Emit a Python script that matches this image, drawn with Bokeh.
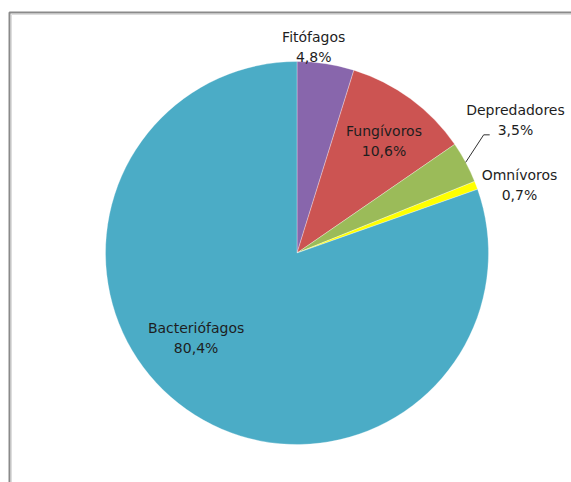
import math
from bokeh.plotting import figure
from bokeh.models import Range1d, ColumnDataSource
from bokeh.embed import file_html
from bokeh.resources import INLINE

# ---- data ----
categories = ["Fitófagos", "Fungívoros", "Depredadores", "Omnívoros", "Bacteriófagos"]
percent = [4.8, 10.6, 3.5, 0.7, 80.4]
pct_labels = ["4,8%", "10,6%", "3,5%", "0,7%", "80,4%"]
colors = ["#8866AC", "#CC5452", "#9BBB59", "#FFFF00", "#4BACC6"]

# ---- layout ----
W, H = 571, 482
cx, cy, R = 296.5, H - 252.5, 191.5
# label placement: (radius factor, angle nudge in degrees)
label_layout = [(1.08, -4.0), (0.74, 1.5), (1.336, -3.1), (1.215, 3.7), (0.69, 14.5)]

p = figure(width=W, height=H, output_backend="svg", toolbar_location=None,
           x_range=Range1d(0, W), y_range=Range1d(0, H),
           min_border=0, outline_line_color=None)
p.axis.visible = False
p.grid.visible = False
p.background_fill_color = "white"
p.border_fill_color = "white"

total = sum(percent)
starts, ends, mids = [], [], []
acc = 0.0
for v in percent:
    a0 = acc / total * 2 * math.pi
    acc += v
    a1 = acc / total * 2 * math.pi
    mids.append((a0 + a1) / 2)
    # clockwise from 12 o'clock -> bokeh anticlockwise from 3 o'clock
    starts.append(math.pi / 2 - a1)
    ends.append(math.pi / 2 - a0)

src = ColumnDataSource(dict(start=starts, end=ends, color=colors))
p.wedge(x=cx, y=cy, radius=R, start_angle="start", end_angle="end",
        fill_color="color", line_color="white", line_width=0.6, line_alpha=0.5,
        source=src)

# labels
for name, pl, m, (rf, nudge) in zip(categories, pct_labels, mids, label_layout):
    a = m + math.radians(nudge)
    lx = cx + R * rf * math.sin(a)
    ly = cy + R * rf * math.cos(a)
    p.text(x=[lx], y=[ly], text=[name + "\n" + pl], text_align="center",
           text_baseline="middle", text_font_size="14px",
           text_font={"value": "DejaVu Sans"}, text_color="#1e1e1e",
           text_line_height=1.25)

# leader line for Depredadores
m = mids[2]
ex, ey = cx + R * math.sin(m), cy + R * math.cos(m)
p.line(x=[ex, ex + 18, ex + 24], y=[ey, ey + 27.5, ey + 27.5], line_color="#303030", line_width=1)

# frame (top and left edges)
p.line(x=[9, 9, W], y=[0, H - 12, H - 12], line_color="#8a8a8a", line_width=2)
p.line(x=[11, 11, W], y=[0, H - 14, H - 14], line_color="#dddddd", line_width=1)

open("out.html", "w").write(file_html(p, INLINE))
